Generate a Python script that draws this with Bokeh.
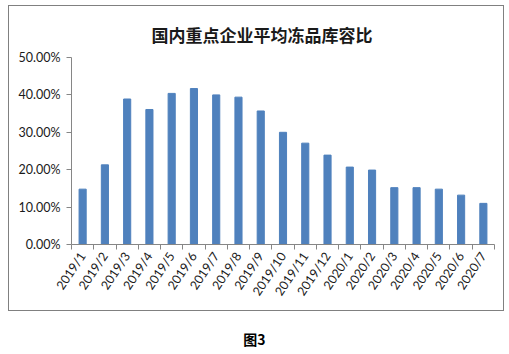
import math
from bokeh.plotting import figure
from bokeh.models import Range1d, FixedTicker, NumeralTickFormatter, Div, Title
from bokeh.layouts import column
from bokeh.embed import file_html
from bokeh.resources import INLINE

categories = ["2019/1", "2019/2", "2019/3", "2019/4", "2019/5", "2019/6", "2019/7",
              "2019/8", "2019/9", "2019/10", "2019/11", "2019/12", "2020/1", "2020/2",
              "2020/3", "2020/4", "2020/5", "2020/6", "2020/7"]
values = [0.148, 0.213, 0.389, 0.361, 0.404, 0.417, 0.400, 0.394, 0.357, 0.300,
          0.271, 0.239, 0.207, 0.199, 0.152, 0.152, 0.148, 0.132, 0.110]
y_ticks = [0.0, 0.1, 0.2, 0.3, 0.4, 0.5]
title_text = "国内重点企业平均冻品库容比"
caption_text = "图3"

n = len(categories)
centers = [i + 0.5 for i in range(n)]
bounds = [float(i) for i in range(n + 1)]

p = figure(width=494, height=304, output_backend="svg", toolbar_location=None,
           x_range=Range1d(0, n), y_range=Range1d(0, 0.5),
           min_border_left=62, min_border_right=11, min_border_top=51,
           min_border_bottom=68)
p.margin = (5, 0, 0, 8)
p.styles = {"border": "1px solid #808080", "box-sizing": "content-box"}

t = Title(text=title_text, align="left", offset=80,
          text_font="Noto Sans CJK SC", text_font_size="17px",
          text_font_style="bold", text_color="#1a1a1a", standoff=22)
p.add_layout(t, "above")

p.vbar(x=centers, top=values, width=0.32, bottom=0,
       fill_color="#4F81BD", line_color="#4F81BD")

p.xgrid.visible = False
p.ygrid.visible = False
p.outline_line_color = None
p.background_fill_color = "white"
p.border_fill_color = "white"

xa = p.xaxis[0]
xa.ticker = FixedTicker(ticks=centers, minor_ticks=bounds)
xa.major_label_overrides = {c: lab for c, lab in zip(centers, categories)}
xa.major_tick_out = 0
xa.major_tick_in = 0
xa.minor_tick_out = 5
xa.minor_tick_in = 0
xa.minor_tick_line_color = "#868686"
xa.axis_line_color = "#868686"
xa.major_label_orientation = math.radians(56)
xa.major_label_text_font = "Lato"
xa.major_label_text_font_size = "12.5px"
xa.major_label_text_color = "#1a1a1a"
xa.major_label_standoff = 4

ya = p.yaxis[0]
ya.ticker = FixedTicker(ticks=y_ticks)
ya.formatter = NumeralTickFormatter(format="0.00%")
ya.major_tick_out = 5
ya.major_tick_in = 0
ya.minor_tick_line_color = None
ya.major_tick_line_color = "#868686"
ya.axis_line_color = "#868686"
ya.major_label_text_font = "Lato"
ya.major_label_text_font_size = "12.5px"
ya.major_label_text_color = "#1a1a1a"
ya.major_label_standoff = 6

cap = Div(text=caption_text, width=509, height=30,
          styles={"text-align": "center", "font-family": "Noto Sans CJK SC",
                  "font-weight": "bold", "font-size": "14px", "color": "#000",
                  "width": "509px"})
cap.margin = (18, 0, 0, 0)

layout = column(p, cap)
open("out.html", "w").write(file_html(layout, INLINE))
